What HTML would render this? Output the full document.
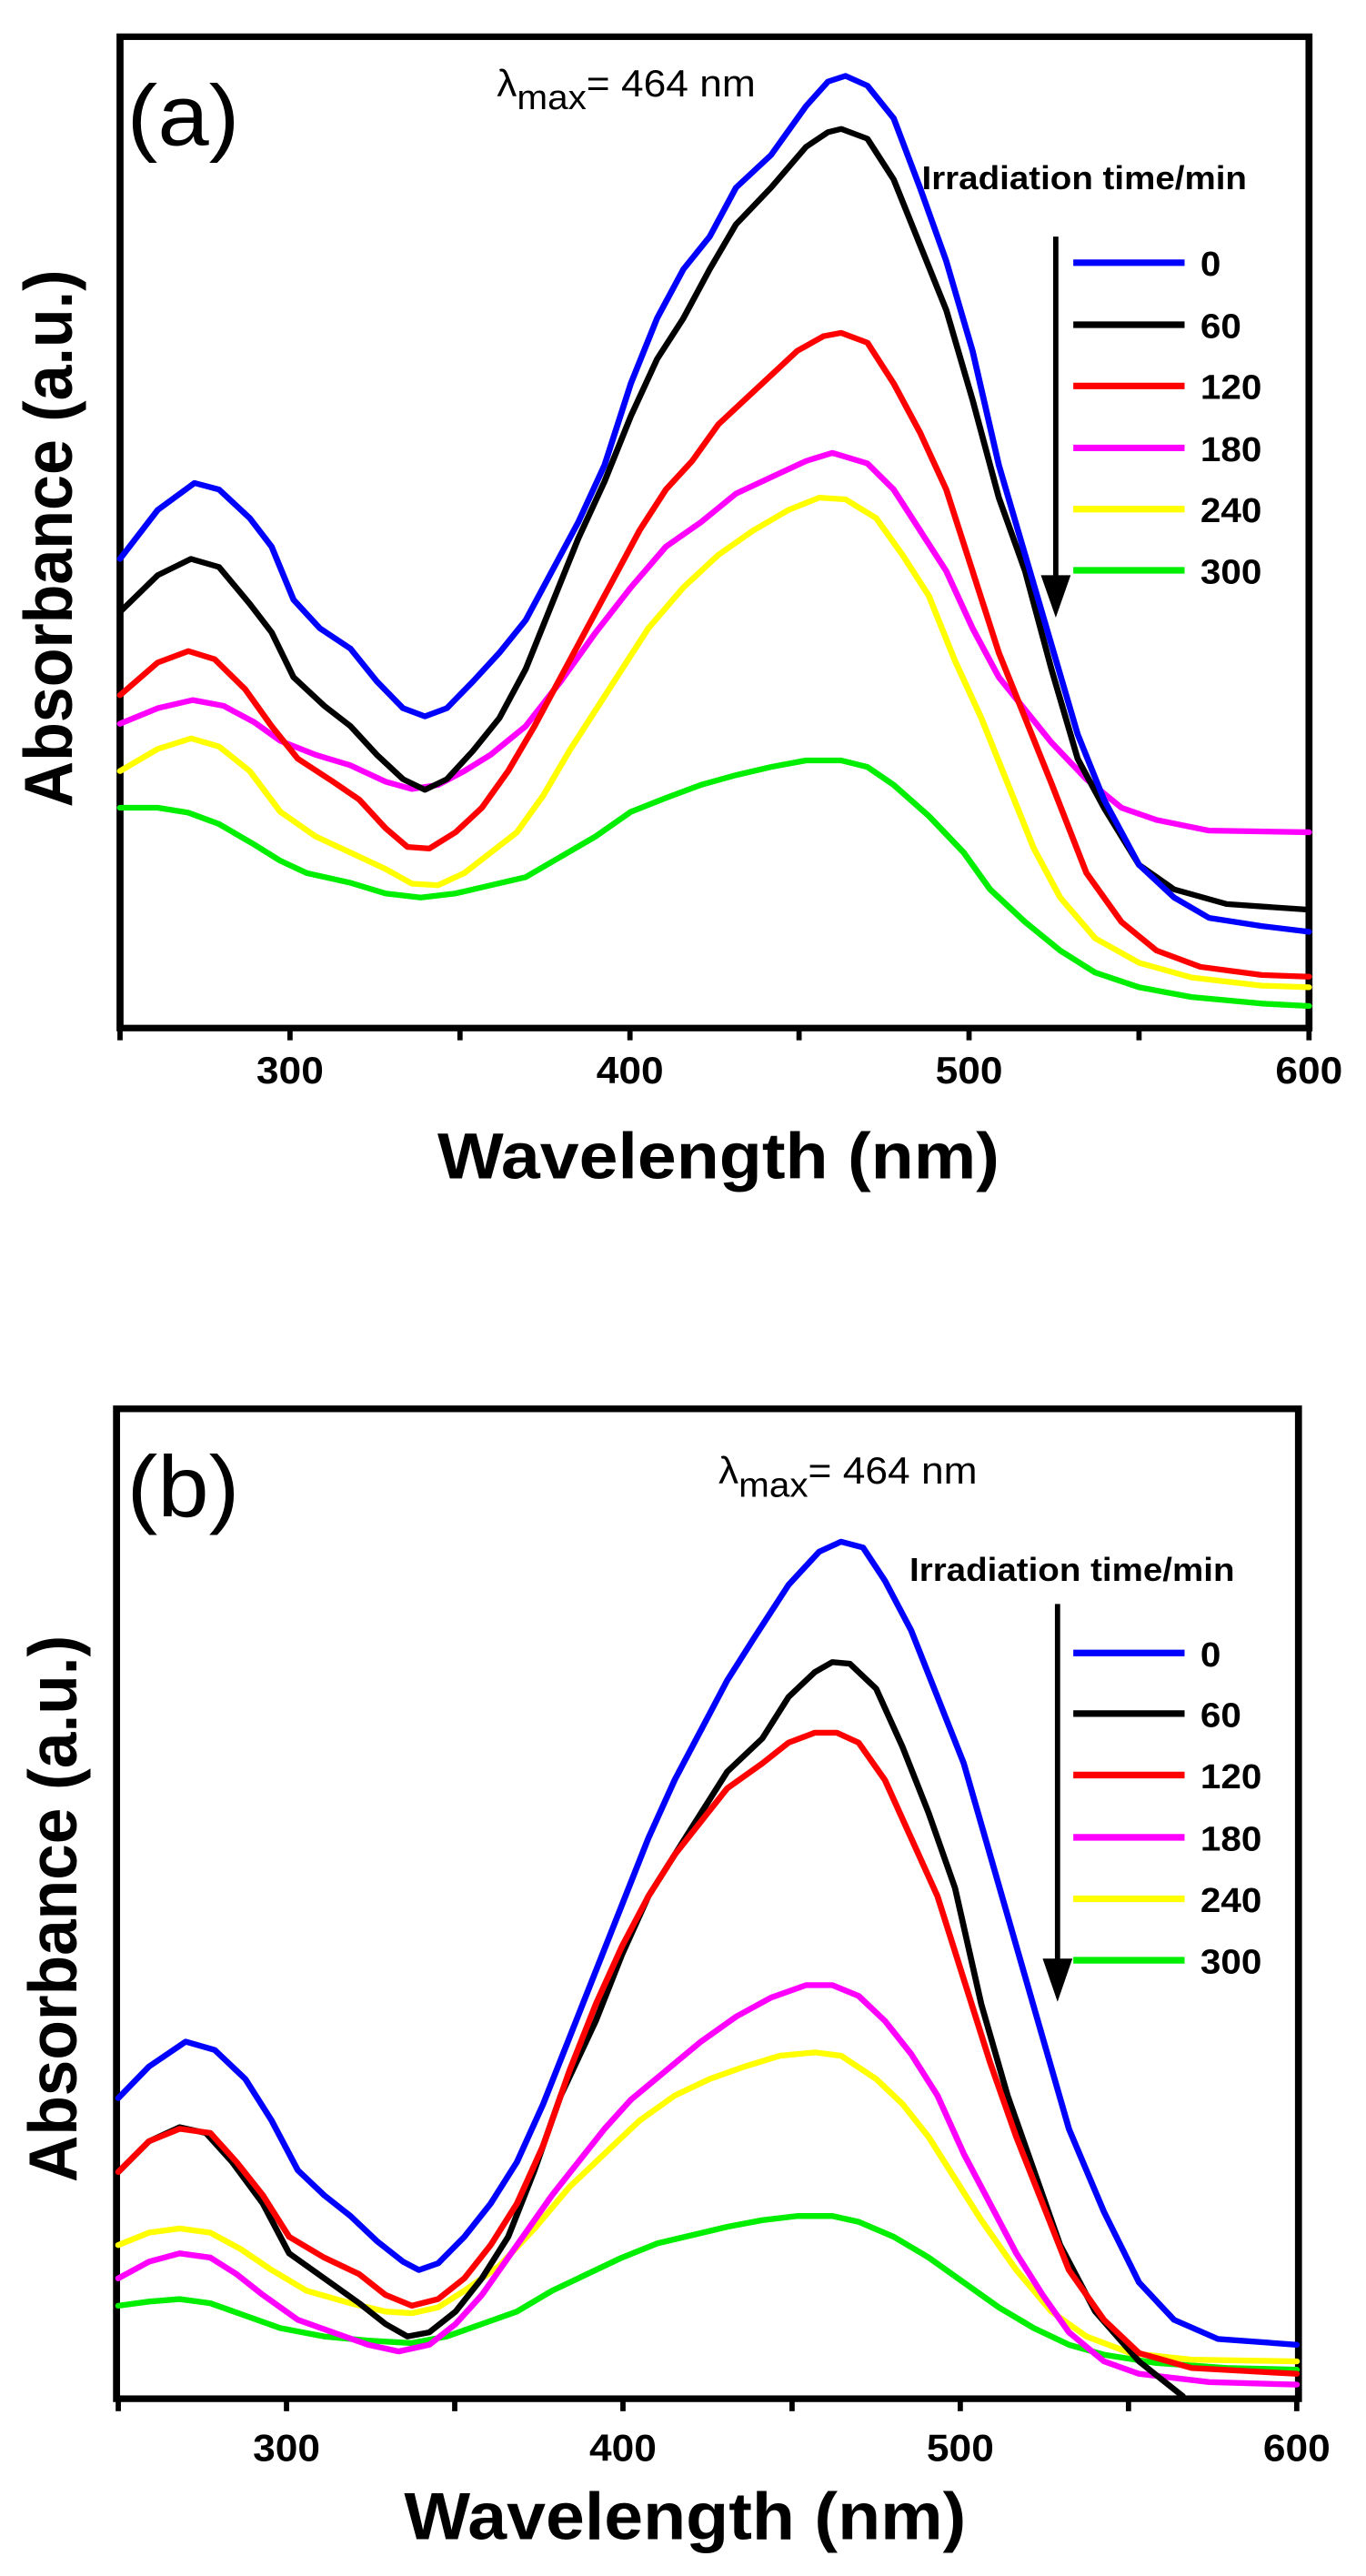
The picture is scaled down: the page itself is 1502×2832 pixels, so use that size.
<!DOCTYPE html>
<html><head><meta charset="utf-8"><style>
html,body{margin:0;padding:0;background:#fff;}
svg{display:block;}
text{font-family:"Liberation Sans",sans-serif;font-weight:bold;fill:#000;}
text.n{font-weight:normal;}
.c{fill:none;stroke-width:7;stroke-linejoin:round;stroke-linecap:round;}
</style></head><body>
<svg width="1502" height="2832" viewBox="0 0 1502 2832" xmlns="http://www.w3.org/2000/svg">
<!-- Panel A -->
<g transform="scale(0.9634,0.897)">
<rect x="137" y="45" width="1357" height="1215" fill="none" stroke="#000" stroke-width="8"/>
<g stroke="#000" stroke-width="6">
<line x1="137" y1="1260" x2="137" y2="1275"/><line x1="331" y1="1260" x2="331" y2="1275"/><line x1="525" y1="1260" x2="525" y2="1275"/><line x1="719" y1="1260" x2="719" y2="1275"/><line x1="912" y1="1260" x2="912" y2="1275"/><line x1="1106" y1="1260" x2="1106" y2="1275"/><line x1="1300" y1="1260" x2="1300" y2="1275"/><line x1="1494" y1="1260" x2="1494" y2="1275"/>
</g>
<g font-size="46" text-anchor="middle"><text x="331" y="1328">300</text><text x="719" y="1328">400</text><text x="1106" y="1328">500</text><text x="1494" y="1328">600</text></g>
<text x="820" y="1444" font-size="80" text-anchor="middle">Wavelength (nm)</text>
<text transform="translate(82,660) rotate(-90)" font-size="78" text-anchor="middle">Absorbance (a.u.)</text>
<text class="n" x="145" y="178" font-size="105">(a)</text>
<text class="n" x="567" y="118" font-size="46">λ<tspan font-size="42" dy="16">max</tspan><tspan dy="-16">= 464 nm</tspan></text>
<text x="1052" y="232" font-size="40">Irradiation time/min</text>
<line x1="1205" y1="290" x2="1205" y2="710" stroke="#000" stroke-width="6"/>
<polygon points="1188,705 1222,705 1205,757" fill="#000"/>
<g stroke-width="8"><line x1="1225" y1="322" x2="1352" y2="322" stroke="#0000ff"/><line x1="1225" y1="398" x2="1352" y2="398" stroke="#000"/><line x1="1225" y1="473" x2="1352" y2="473" stroke="#ff0000"/><line x1="1225" y1="549" x2="1352" y2="549" stroke="#ff00ff"/><line x1="1225" y1="624" x2="1352" y2="624" stroke="#ffff00"/><line x1="1225" y1="699" x2="1352" y2="699" stroke="#00ee00"/></g>
<g font-size="42"><text x="1370" y="338">0</text><text x="1370" y="414">60</text><text x="1370" y="489">120</text><text x="1370" y="565">180</text><text x="1370" y="640">240</text><text x="1370" y="715">300</text></g>
<polyline class="c" stroke="#00ee00" points="137,990 180,990 215,996 250,1010 290,1035 320,1055 350,1070 400,1082 440,1095 480,1100 520,1095 560,1085 600,1075 640,1050 680,1025 720,995 760,978 800,962 840,950 880,940 920,932 960,932 990,940 1020,962 1060,1000 1100,1045 1130,1090 1170,1130 1210,1165 1250,1192 1300,1210 1360,1222 1440,1230 1494,1233"/>
<polyline class="c" stroke="#ffff00" points="137,945 180,918 218,905 250,915 285,945 320,995 360,1025 400,1045 440,1065 470,1083 500,1085 530,1070 560,1045 590,1020 620,975 650,920 680,870 710,820 740,770 780,720 820,680 860,650 900,625 935,610 965,612 1000,635 1030,680 1060,730 1090,810 1120,880 1150,960 1180,1040 1210,1100 1250,1150 1300,1180 1360,1198 1440,1208 1494,1210"/>
<polyline class="c" stroke="#ff00ff" points="137,887 180,868 220,858 255,865 290,885 320,908 360,925 400,938 440,958 470,967 500,962 530,945 560,925 600,890 640,835 680,775 720,720 760,670 800,640 840,605 880,585 920,565 950,555 990,568 1020,600 1050,650 1080,700 1110,770 1140,830 1170,870 1200,910 1240,955 1280,990 1320,1005 1380,1018 1494,1020"/>
<polyline class="c" stroke="#ff0000" points="137,852 180,812 215,798 245,808 280,845 310,890 340,930 380,958 410,980 440,1015 465,1038 490,1040 520,1020 550,990 580,945 610,890 640,830 670,770 700,710 730,650 760,600 790,565 820,520 850,490 880,460 910,430 940,412 960,408 990,420 1020,470 1050,530 1080,600 1110,700 1140,800 1170,880 1200,960 1240,1070 1280,1130 1320,1165 1370,1185 1440,1195 1494,1197"/>
<polyline class="c" stroke="#000" points="137,750 180,705 218,685 250,695 285,740 310,775 335,830 370,865 400,890 430,925 460,955 485,968 510,955 540,920 570,880 600,820 630,740 660,660 690,590 720,510 750,440 780,390 810,330 840,275 880,230 920,180 945,162 960,158 990,170 1020,220 1050,300 1080,380 1110,490 1140,610 1170,700 1200,820 1230,930 1260,990 1300,1060 1340,1090 1400,1108 1494,1115"/>
<polyline class="c" stroke="#0000ff" points="137,685 180,625 222,592 250,600 285,635 310,670 335,735 365,770 400,795 430,835 460,868 485,878 510,868 540,835 570,800 600,760 630,700 660,640 690,570 720,470 750,390 780,330 810,290 840,230 880,190 920,130 945,100 965,93 990,105 1020,145 1050,230 1080,320 1110,430 1140,570 1170,680 1200,790 1230,900 1260,980 1300,1060 1340,1100 1380,1125 1440,1135 1494,1142"/>
</g>
<!-- Panel B -->
<g transform="translate(0,1400) scale(0.9634,0.913)">
<rect x="133" y="163" width="1349" height="1192" fill="none" stroke="#000" stroke-width="8"/>
<g stroke="#000" stroke-width="6">
<line x1="135" y1="1355" x2="135" y2="1370"/><line x1="327" y1="1355" x2="327" y2="1370"/><line x1="519" y1="1355" x2="519" y2="1370"/><line x1="711" y1="1355" x2="711" y2="1370"/><line x1="904" y1="1355" x2="904" y2="1370"/><line x1="1096" y1="1355" x2="1096" y2="1370"/><line x1="1288" y1="1355" x2="1288" y2="1370"/><line x1="1480" y1="1355" x2="1480" y2="1370"/>
</g>
<g font-size="46" text-anchor="middle"><text x="327" y="1430">300</text><text x="711" y="1430">400</text><text x="1096" y="1430">500</text><text x="1480" y="1430">600</text></g>
<text x="782" y="1524" font-size="80" text-anchor="middle">Wavelength (nm)</text>
<text transform="translate(87,765) rotate(-90)" font-size="78" text-anchor="middle">Absorbance (a.u.)</text>
<text class="n" x="145" y="293" font-size="105">(b)</text>
<text class="n" x="820" y="253" font-size="46">λ<tspan font-size="42" dy="16">max</tspan><tspan dy="-16">= 464 nm</tspan></text>
<text x="1038" y="370" font-size="40">Irradiation time/min</text>
<line x1="1207" y1="398" x2="1207" y2="830" stroke="#000" stroke-width="6"/>
<polygon points="1190,825 1224,825 1207,877" fill="#000"/>
<g stroke-width="8"><line x1="1225" y1="457" x2="1352" y2="457" stroke="#0000ff"/><line x1="1225" y1="530" x2="1352" y2="530" stroke="#000"/><line x1="1225" y1="604" x2="1352" y2="604" stroke="#ff0000"/><line x1="1225" y1="679" x2="1352" y2="679" stroke="#ff00ff"/><line x1="1225" y1="753" x2="1352" y2="753" stroke="#ffff00"/><line x1="1225" y1="827" x2="1352" y2="827" stroke="#00ee00"/></g>
<g font-size="42"><text x="1370" y="473">0</text><text x="1370" y="546">60</text><text x="1370" y="620">120</text><text x="1370" y="695">180</text><text x="1370" y="769">240</text><text x="1370" y="843">300</text></g>
<polyline class="c" stroke="#00ee00" points="135,1243 170,1238 205,1235 240,1240 280,1255 320,1270 370,1280 420,1285 470,1288 510,1280 550,1265 590,1250 630,1225 670,1205 710,1185 750,1168 790,1158 830,1148 870,1140 910,1135 950,1135 980,1142 1020,1160 1060,1185 1100,1215 1140,1245 1180,1270 1220,1290 1260,1302 1320,1312 1400,1318 1480,1320"/>
<polyline class="c" stroke="#ffff00" points="135,1170 170,1155 205,1150 240,1155 275,1175 310,1200 350,1225 400,1240 440,1250 470,1252 500,1245 530,1225 570,1195 610,1150 650,1100 690,1060 730,1020 770,990 810,970 850,955 890,942 930,938 960,942 1000,970 1030,1000 1060,1040 1090,1090 1120,1140 1160,1200 1200,1250 1240,1280 1290,1300 1360,1308 1480,1310"/>
<polyline class="c" stroke="#ff00ff" points="135,1210 170,1190 205,1180 240,1185 270,1205 300,1230 340,1260 380,1275 420,1290 455,1298 490,1290 520,1265 550,1230 590,1170 630,1110 660,1070 690,1030 720,995 760,960 800,925 840,895 880,872 920,857 950,857 980,870 1010,900 1040,940 1070,990 1100,1060 1130,1120 1160,1180 1190,1230 1220,1275 1260,1310 1300,1325 1380,1335 1480,1338"/>
<polyline class="c" stroke="#000" points="135,1082 170,1045 205,1028 235,1035 265,1070 300,1120 330,1180 370,1210 410,1240 440,1265 465,1280 490,1275 520,1250 550,1210 580,1160 610,1080 640,990 680,900 710,820 740,750 770,700 800,650 830,600 870,560 900,510 930,480 950,468 970,470 1000,500 1030,570 1060,650 1090,740 1120,880 1150,990 1180,1080 1210,1170 1250,1250 1300,1310 1350,1352"/>
<polyline class="c" stroke="#ff0000" points="135,1082 170,1045 205,1030 240,1035 270,1070 300,1110 330,1160 370,1185 410,1205 440,1230 470,1243 500,1235 530,1210 560,1170 590,1120 620,1050 650,960 680,880 710,810 740,750 770,700 800,660 830,620 870,590 900,565 930,553 955,553 980,565 1010,610 1040,680 1070,750 1100,850 1130,950 1160,1040 1190,1120 1220,1200 1260,1260 1300,1300 1360,1318 1480,1325"/>
<polyline class="c" stroke="#0000ff" points="135,993 170,955 212,925 245,935 280,970 310,1020 340,1080 370,1110 400,1135 430,1165 460,1190 478,1200 500,1192 530,1160 560,1120 590,1070 620,1000 650,920 680,840 710,760 740,680 770,610 800,550 830,490 860,440 900,375 935,335 960,323 985,330 1010,370 1040,430 1070,510 1100,590 1130,700 1160,810 1190,920 1220,1030 1260,1130 1300,1215 1340,1260 1390,1283 1480,1290"/>
</g>
</svg>
</body></html>
